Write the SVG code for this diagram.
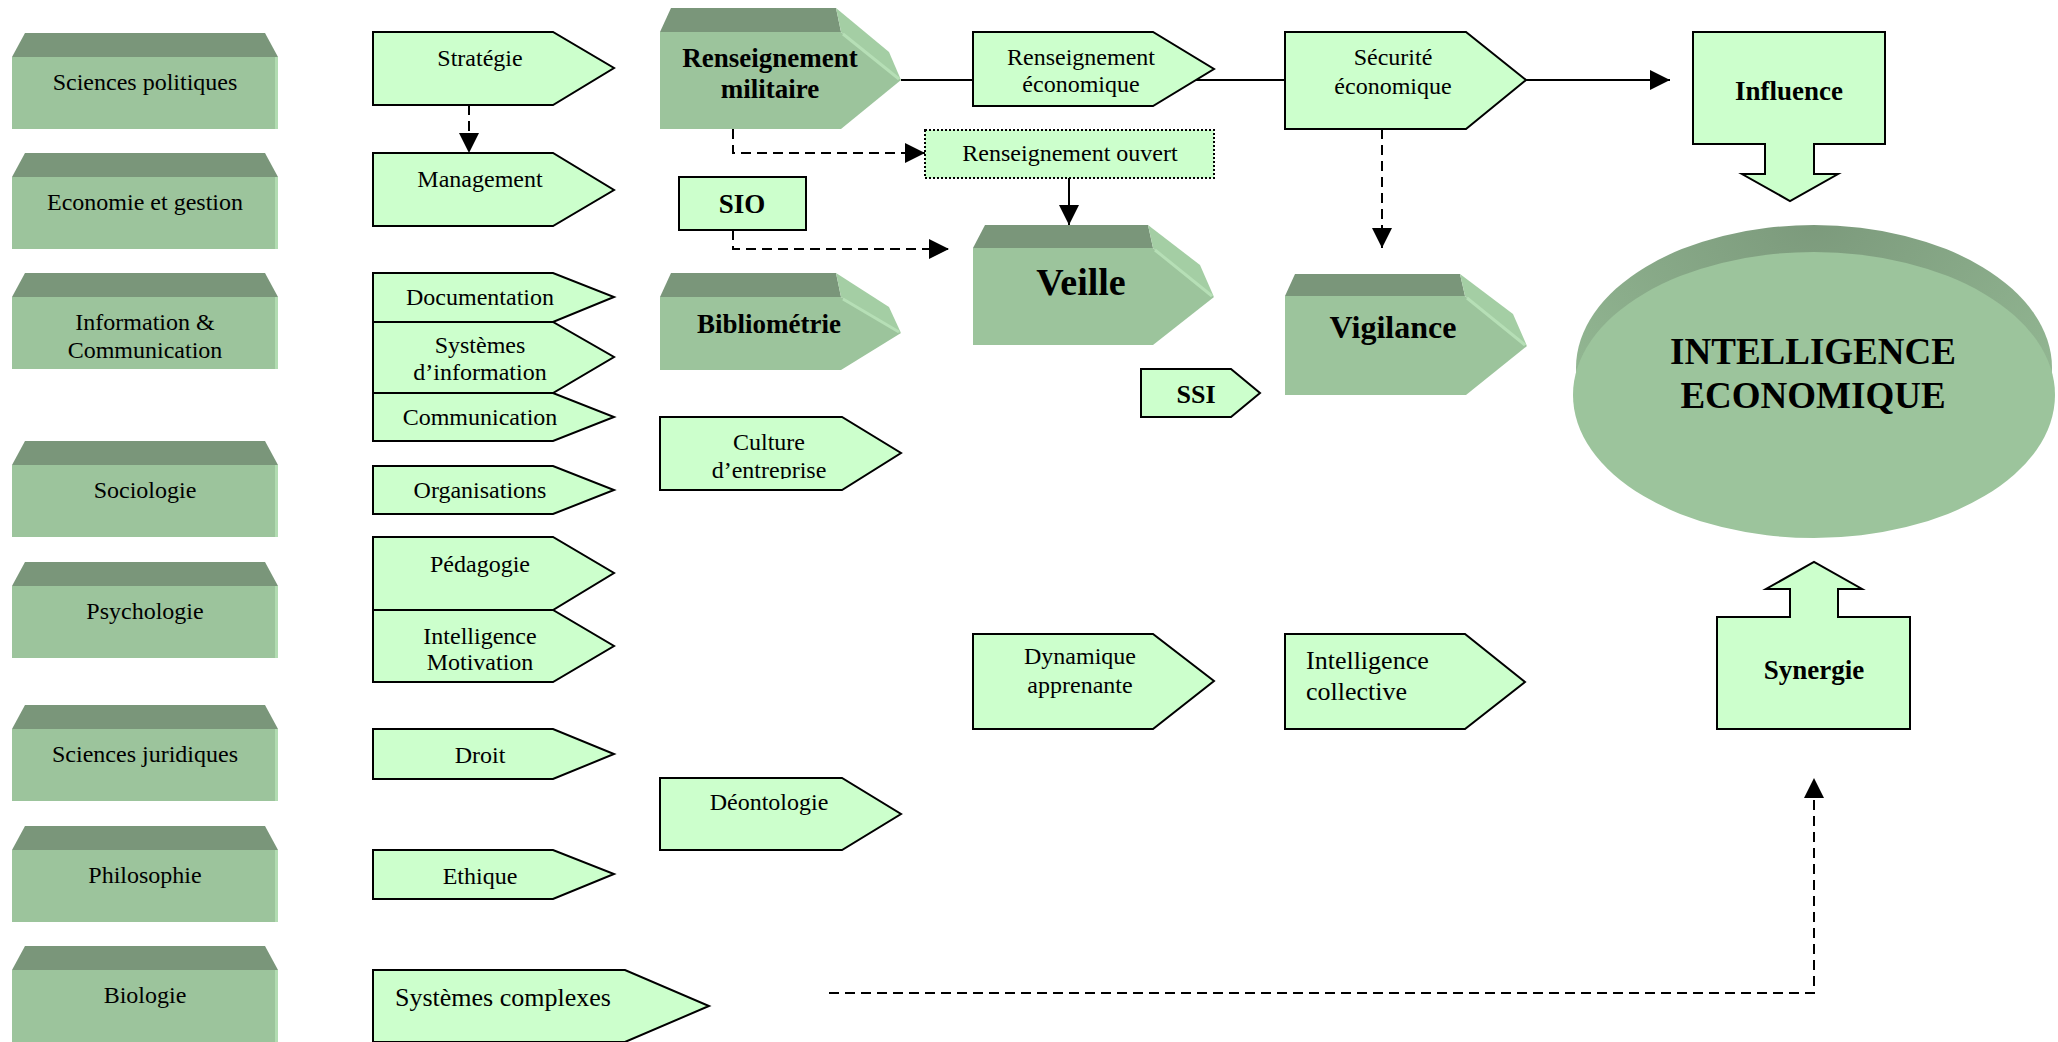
<svg xmlns="http://www.w3.org/2000/svg" width="2058" height="1042" viewBox="0 0 2058 1042">
  <defs>
    <style>
      .t { font-family: "Liberation Serif", "Times New Roman", serif; font-size: 24px; fill: #000; text-anchor: middle; }
      .b { font-weight: bold; }
      .lt { fill: #CCFFCC; stroke: #000; stroke-width: 2; stroke-linejoin: miter; }
      .front { fill: #9CC49C; }
      .top { fill: #7A967A; }
      .side { fill: #A4CEA4; }
      .edge { fill: none; stroke: #B6DFB6; stroke-width: 3; }
      .rim { fill: #B2DCB2; }
      .ln { fill: none; stroke: #000; stroke-width: 2; }
      .dash { stroke-dasharray: 10 6; }
    </style>
    <marker id="arrow" viewBox="0 0 10 10" refX="10" refY="5" markerWidth="20" markerHeight="20" markerUnits="userSpaceOnUse" orient="auto">
      <path d="M0,0 L10,5 L0,10 Z" fill="#000"/>
    </marker>
    <clipPath id="clipCulture">
      <rect x="660" y="417" width="242" height="62"/>
    </clipPath>
    <radialGradient id="rimGrad" cx="0.5" cy="0" r="0.8">
      <stop offset="0" stop-color="#7C9A7C"/>
      <stop offset="1" stop-color="#95BA95"/>
    </radialGradient>
  </defs>

  <rect width="2058" height="1042" fill="#fff"/>

  <!-- connectors -->
  <g id="connectors">
    <path class="ln dash" d="M469,105 V153" marker-end="url(#arrow)"/>
    <path class="ln dash" d="M733,129 V153 H925" marker-end="url(#arrow)"/>
    <path class="ln dash" d="M733,230 V249 H949" marker-end="url(#arrow)"/>
    <path class="ln" d="M1069,178 V225" marker-end="url(#arrow)"/>
    <path class="ln" d="M901,80 H1285"/>
    <path class="ln" d="M1526,80 H1670" marker-end="url(#arrow)"/>
    <path class="ln dash" d="M1382,129 V248" marker-end="url(#arrow)"/>
    <path class="ln dash" d="M829,993 H1814 V778" marker-end="url(#arrow)"/>
  </g>

  <!-- disciplines (left column) -->
  <g id="sciences-politiques">
    <polygon class="top" points="25,33 265,33 278,57 12,57"/>
    <rect class="front" x="12" y="57" width="266" height="72"/>
    <rect class="rim" x="275" y="57" width="3" height="72"/>
    <text class="t" x="145" y="90">Sciences politiques</text>
  </g>
  <g id="economie-gestion">
    <polygon class="top" points="25,153 265,153 278,177 12,177"/>
    <rect class="front" x="12" y="177" width="266" height="72"/>
    <rect class="rim" x="275" y="177" width="3" height="72"/>
    <text class="t" x="145" y="210">Economie et gestion</text>
  </g>
  <g id="information-communication">
    <polygon class="top" points="25,273 265,273 278,297 12,297"/>
    <rect class="front" x="12" y="297" width="266" height="72"/>
    <rect class="rim" x="275" y="297" width="3" height="72"/>
    <text class="t" x="145" y="330">Information &amp;</text>
    <text class="t" x="145" y="358">Communication</text>
  </g>
  <g id="sociologie">
    <polygon class="top" points="25,441 265,441 278,465 12,465"/>
    <rect class="front" x="12" y="465" width="266" height="72"/>
    <rect class="rim" x="275" y="465" width="3" height="72"/>
    <text class="t" x="145" y="498">Sociologie</text>
  </g>
  <g id="psychologie">
    <polygon class="top" points="25,562 265,562 278,586 12,586"/>
    <rect class="front" x="12" y="586" width="266" height="72"/>
    <rect class="rim" x="275" y="586" width="3" height="72"/>
    <text class="t" x="145" y="619">Psychologie</text>
  </g>
  <g id="sciences-juridiques">
    <polygon class="top" points="25,705 265,705 278,729 12,729"/>
    <rect class="front" x="12" y="729" width="266" height="72"/>
    <rect class="rim" x="275" y="729" width="3" height="72"/>
    <text class="t" x="145" y="762">Sciences juridiques</text>
  </g>
  <g id="philosophie">
    <polygon class="top" points="25,826 265,826 278,850 12,850"/>
    <rect class="front" x="12" y="850" width="266" height="72"/>
    <rect class="rim" x="275" y="850" width="3" height="72"/>
    <text class="t" x="145" y="883">Philosophie</text>
  </g>
  <g id="biologie">
    <polygon class="top" points="25,946 265,946 278,970 12,970"/>
    <rect class="front" x="12" y="970" width="266" height="72"/>
    <rect class="rim" x="275" y="970" width="3" height="72"/>
    <text class="t" x="145" y="1003">Biologie</text>
  </g>

  <!-- fields (second column) -->
  <g id="strategie">
    <path class="lt" d="M373,32 H553 L614,68 L553,105 H373 Z"/>
    <text class="t" x="480" y="66">Stratégie</text>
  </g>
  <g id="management">
    <path class="lt" d="M373,153 H553 L614,190 L553,226 H373 Z"/>
    <text class="t" x="480" y="187">Management</text>
  </g>
  <g id="documentation">
    <path class="lt" d="M373,273 H553 L614,297 L553,322 H373 Z"/>
    <text class="t" x="480" y="305">Documentation</text>
  </g>
  <g id="systemes-information">
    <path class="lt" d="M373,322 H553 L614,357 L553,393 H373 Z"/>
    <text class="t" x="480" y="353">Systèmes</text>
    <text class="t" x="480" y="380">d’information</text>
  </g>
  <g id="communication">
    <path class="lt" d="M373,393 H553 L614,417 L553,441 H373 Z"/>
    <text class="t" x="480" y="425">Communication</text>
  </g>
  <g id="organisations">
    <path class="lt" d="M373,466 H553 L614,490 L553,514 H373 Z"/>
    <text class="t" x="480" y="498">Organisations</text>
  </g>
  <g id="pedagogie">
    <path class="lt" d="M373,537 H553 L614,573 L553,610 H373 Z"/>
    <text class="t" x="480" y="572">Pédagogie</text>
  </g>
  <g id="intelligence-motivation">
    <path class="lt" d="M373,610 H553 L614,646 L553,682 H373 Z"/>
    <text class="t" x="480" y="644">Intelligence</text>
    <text class="t" x="480" y="670">Motivation</text>
  </g>
  <g id="droit">
    <path class="lt" d="M373,729 H553 L614,754 L553,779 H373 Z"/>
    <text class="t" x="480" y="763">Droit</text>
  </g>
  <g id="ethique">
    <path class="lt" d="M373,850 H553 L614,874 L553,899 H373 Z"/>
    <text class="t" x="480" y="884">Ethique</text>
  </g>
  <g id="systemes-complexes">
    <path class="lt" d="M373,970 H625 L709,1006 L625,1042 H373 Z"/>
    <text class="t" x="395" y="1006" style="text-anchor:start;font-size:26px">Systèmes complexes</text>
  </g>

  <!-- third column -->
  <g id="renseignement-militaire">
    <polygon class="front" points="660,32 841,32 901,80 841,129 660,129"/>
    <polygon class="top" points="671,8 836,8 841,32 660,32"/>
    <polygon class="side" points="836,8 889,52 901,80 841,32"/>
    <line class="edge" x1="843" y1="34" x2="899" y2="79"/>
    <text class="t b" x="770" y="67" style="font-size:27px">Renseignement</text>
    <text class="t b" x="770" y="98" style="font-size:27px">militaire</text>
  </g>
  <g id="sio">
    <rect class="lt" x="679" y="177" width="127" height="53"/>
    <text class="t b" x="742" y="213" style="font-size:27px">SIO</text>
  </g>
  <g id="bibliometrie">
    <polygon class="front" points="660,297 841,297 901,333 841,370 660,370"/>
    <polygon class="top" points="671,273 836,273 841,297 660,297"/>
    <polygon class="side" points="836,273 889,307 901,333 841,297"/>
    <line class="edge" x1="843" y1="299" x2="899" y2="332"/>
    <text class="t b" x="769" y="333" style="font-size:27px">Bibliométrie</text>
  </g>
  <g id="culture-entreprise">
    <path class="lt" d="M660,417 H842 L901,453 L842,490 H660 Z"/>
    <g clip-path="url(#clipCulture)">
      <text class="t" x="769" y="450">Culture</text>
      <text class="t" x="769" y="478">d’entreprise</text>
    </g>
  </g>
  <g id="deontologie">
    <path class="lt" d="M660,778 H842 L901,814 L842,850 H660 Z"/>
    <text class="t" x="769" y="810">Déontologie</text>
  </g>

  <!-- fourth column -->
  <g id="renseignement-economique">
    <path class="lt" d="M973,32 H1153 L1214,69 L1153,106 H973 Z"/>
    <text class="t" x="1081" y="65">Renseignement</text>
    <text class="t" x="1081" y="92">économique</text>
  </g>
  <g id="renseignement-ouvert">
    <rect x="925" y="130" width="289" height="48" fill="#CCFFCC" stroke="#000" stroke-width="2" stroke-dasharray="2 2"/>
    <text class="t" x="1070" y="161">Renseignement ouvert</text>
  </g>
  <g id="veille">
    <polygon class="front" points="973,248 1153,248 1214,297 1153,345 973,345"/>
    <polygon class="top" points="985,225 1148,225 1153,248 973,248"/>
    <polygon class="side" points="1148,225 1200,265 1214,297 1153,248"/>
    <line class="edge" x1="1155" y1="250" x2="1212" y2="296"/>
    <text class="t b" x="1081" y="295" style="font-size:38px">Veille</text>
  </g>
  <g id="ssi">
    <path class="lt" d="M1141,369 H1231 L1260,393 L1231,417 H1141 Z"/>
    <text class="t b" x="1196" y="403" style="font-size:26px">SSI</text>
  </g>
  <g id="dynamique-apprenante">
    <path class="lt" d="M973,634 H1153 L1214,681 L1153,729 H973 Z"/>
    <text class="t" x="1080" y="664">Dynamique</text>
    <text class="t" x="1080" y="693">apprenante</text>
  </g>

  <!-- fifth column -->
  <g id="securite-economique">
    <path class="lt" d="M1285,32 H1466 L1526,80 L1466,129 H1285 Z"/>
    <text class="t" x="1393" y="65">Sécurité</text>
    <text class="t" x="1393" y="94">économique</text>
  </g>
  <g id="vigilance">
    <polygon class="front" points="1285,296 1465,296 1527,346 1466,395 1285,395"/>
    <polygon class="top" points="1295,274 1460,274 1465,296 1285,296"/>
    <polygon class="side" points="1460,274 1513,314 1527,346 1465,296"/>
    <line class="edge" x1="1467" y1="298" x2="1525" y2="345"/>
    <text class="t b" x="1393" y="338" style="font-size:32px">Vigilance</text>
  </g>
  <g id="intelligence-collective">
    <path class="lt" d="M1285,634 H1465 L1525,682 L1465,729 H1285 Z"/>
    <text class="t" x="1306" y="669" style="text-anchor:start;font-size:26px">Intelligence</text>
    <text class="t" x="1306" y="700" style="text-anchor:start;font-size:26px">collective</text>
  </g>

  <!-- right column -->
  <g id="influence">
    <path class="lt" d="M1693,32 H1885 V144 H1814 V174 H1838 L1790,201 L1742,174 H1765 V144 H1693 Z"/>
    <text class="t b" x="1789" y="100" style="font-size:27px">Influence</text>
  </g>
  <g id="intelligence-economique">
    <ellipse cx="1814" cy="368" rx="238" ry="143" fill="url(#rimGrad)"/>
    <ellipse cx="1814" cy="395" rx="241" ry="143" fill="#9CC49C"/>
    <text class="t b" x="1813" y="364" style="font-size:37px">INTELLIGENCE</text>
    <text class="t b" x="1813" y="408" style="font-size:37px">ECONOMIQUE</text>
  </g>
  <g id="synergie">
    <path class="lt" d="M1717,617 H1790 V589 H1766 L1814,562 L1862,589 H1838 V617 H1910 V729 H1717 Z"/>
    <text class="t b" x="1814" y="679" style="font-size:27px">Synergie</text>
  </g>
</svg>
